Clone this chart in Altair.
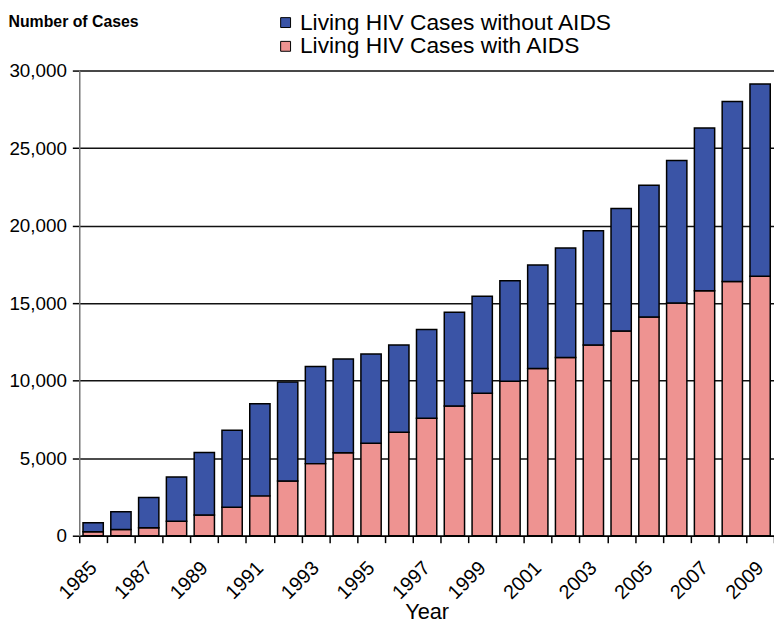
import altair as alt
import pandas as pd

years = list(range(1985, 2010))
with_aids = [250, 400, 510, 940, 1340, 1830, 2570, 3530, 4650, 5350, 5960, 6670, 7580,
             8370, 9190, 9960, 10790, 11490, 12300, 13210, 14100, 15010, 15800, 16390, 16740]
without_aids = [580, 1150, 1950, 2840, 4030, 4970, 5940, 6390, 6270, 6050, 5760, 5630, 5720,
                6050, 6250, 6480, 6670, 7070, 7370, 7890, 8500, 9190, 10500, 11610, 12390]
y_ticks = [0, 5000, 10000, 15000, 20000, 25000, 30000]

s_without = "Living HIV Cases without AIDS"
s_with = "Living HIV Cases with AIDS"

rows = []
for y, w, wo in zip(years, with_aids, without_aids):
    rows.append({"year": y, "series": s_with, "cases": w, "ord": 0})
    rows.append({"year": y, "series": s_without, "cases": wo, "ord": 1})
df = pd.DataFrame(rows)

FONT = "Liberation Sans, Arial"

chart = alt.Chart(df).mark_bar(stroke="black", strokeWidth=1.5, width={"band": 0.73}).encode(
    x=alt.X("year:O", title="Year",
            scale=alt.Scale(paddingInner=0, paddingOuter=0),
            axis=alt.Axis(labelAngle=-45, labelAlign="right", labelBaseline="top",
                          labelExpr="datum.value % 2 == 1 ? datum.label : ''",
                          labelFontSize=20, labelFont=FONT, labelColor="black",
                          labelPadding=15, labelOffset=-7,
                          tickBand="extent", tickSize=7, tickColor="black", tickWidth=1.5,
                          domainColor="black", domainWidth=1.5,
                          titleFontSize=22, titleFont=FONT, titleFontWeight="normal",
                          titleColor="black", titleBaseline="top", titleY=67)),
    y=alt.Y("cases:Q", stack="zero",
            scale=alt.Scale(domain=[0, 30000], nice=False),
            axis=alt.Axis(values=y_ticks, format=",d",
                          labelFontSize=19, labelFont=FONT, labelColor="black",
                          labelPadding=6, tickSize=7, tickColor="black", tickWidth=1.5,
                          domainColor="#777", domainWidth=1.5,
                          grid=True, gridColor="#111", gridWidth=1.5,
                          title="Number of Cases", titleAngle=0, titleAlign="left",
                          titleBaseline="top", titleX=-72, titleY=-58,
                          titleFontSize=16, titleFont=FONT, titleFontWeight="bold",
                          titleColor="black")),
    color=alt.Color("series:N",
                    scale=alt.Scale(domain=[s_without, s_with], range=["#3A54A6", "#EE9391"]),
                    legend=alt.Legend(title=None, orient="none", legendX=197, legendY=-60,
                                      symbolType="square", symbolSize=100,
                                      symbolStrokeColor="black", symbolStrokeWidth=1,
                                      labelFontSize=23, labelFont=FONT, labelColor="black",
                                      labelOffset=3, rowPadding=0, padding=0,
                                      labelLimit=500)),
    order=alt.Order("ord:Q", sort="ascending"),
).properties(
    width=702, height=470,
    autosize=alt.AutoSizeParams(type="none"),
    padding={"left": 72, "top": 60, "right": 0, "bottom": 88},
).configure_view(stroke=None).configure(background="white")

chart.save("out.html", embed_options={"renderer": "svg", "actions": False})
